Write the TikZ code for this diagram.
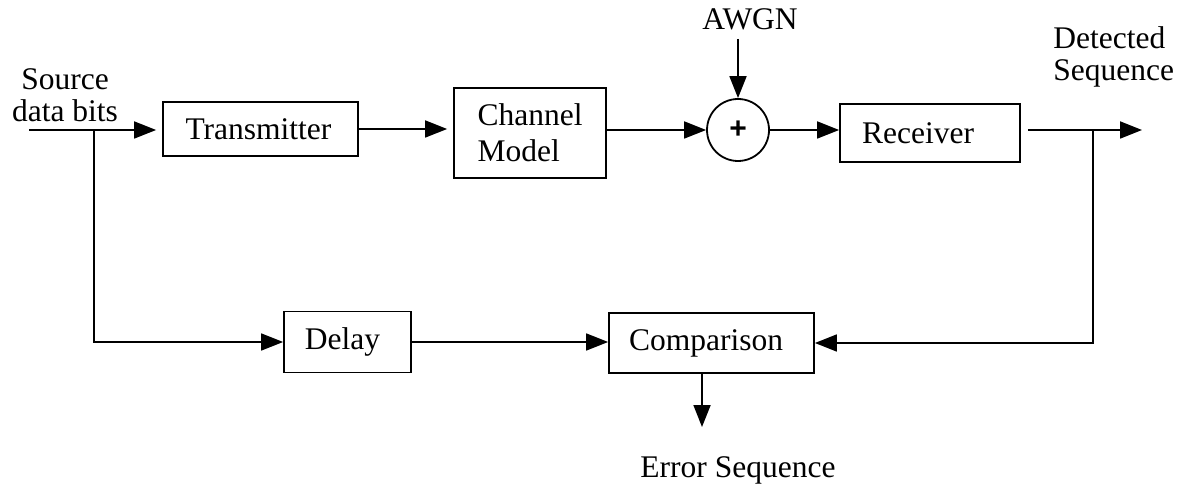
\documentclass[tikz,border=0pt]{standalone}
\usepackage{fontspec}
\setmainfont{Liberation Serif}
\newfontfamily\plusfont{Liberation Sans}
\usetikzlibrary{arrows.meta}
\begin{document}
\begin{tikzpicture}[x=0.5pt,y=-0.5pt,
  every node/.style={font=\fontsize{15.75pt}{16pt}\selectfont},
  blockbox/.style={draw,line width=0.9pt,inner sep=0pt,align=left},
  conn/.style={line width=0.9pt},
  arr/.style={conn,-{Triangle[length=11pt,width=8.5pt]}},
  lbl/.style={inner sep=0pt,align=left}]
\useasboundingbox (0,0) rectangle (1186,485);
% blocks
\node[blockbox,minimum width=97.5pt,minimum height=27pt] (tx) at (260.5,129) {Transmitter\hspace*{2pt}};
\node[blockbox,minimum width=76pt,minimum height=45pt,font=\fontsize{15.75pt}{18pt}\selectfont] (ch) at (530,133) {Channel\\Model};
\node[draw,circle,line width=0.9pt,minimum size=31pt,inner sep=0pt] (sum) at (738,130) {\plusfont\bfseries\fontsize{15pt}{15pt}\selectfont +};
\node[blockbox,minimum width=90pt,minimum height=29pt] (rx) at (930,133) {Receiver\hspace*{12pt}};
\node[blockbox,minimum width=63.5pt,minimum height=30.5pt] (dl) at (347.5,342) {Delay\hspace*{5pt}};
\node[blockbox,minimum width=102.5pt,minimum height=30pt] (cmp) at (711.5,343) {Comparison\hspace*{5.5pt}};
% labels
\node[lbl,align=center,anchor=north] (src) at (65,68) {Source\\data bits};
\node[lbl,anchor=base] (awgn) at (750,30) {AWGN};
\node[lbl,anchor=north west] (det) at (1053,26) {Detected\\Sequence};
\node[lbl,anchor=base] (errl) at (738,477) {Error Sequence};
% coordinates
\coordinate (in) at (29,130);
\coordinate (sb) at (94,130);
\coordinate (nz) at (738,39);
\coordinate (out) at (1142,130);
\coordinate (br) at (1093,130);
\coordinate (err) at (702,427);
% connectors
\draw[arr,shorten >=3pt] (in) -- (in -| tx.west);
\draw[arr] (sb) |- (dl.west);
\draw[arr,shorten >=3pt] (tx.east) -- (tx.east -| ch.west);
\draw[arr] (sum.west -| ch.east) -- (sum.west);
\draw[arr] (nz) -- (sum.north);
\draw[arr] (sum.east) -- (sum.east -| rx.west);
\draw[arr,shorten <=3.5pt] (out -| rx.east) -- (out);
\draw[arr] (br) |- (cmp.east);
\draw[arr] (dl.east) -- (dl.east -| cmp.west);
\draw[arr] (err |- cmp.south) -- (err);
\end{tikzpicture}
\end{document}
